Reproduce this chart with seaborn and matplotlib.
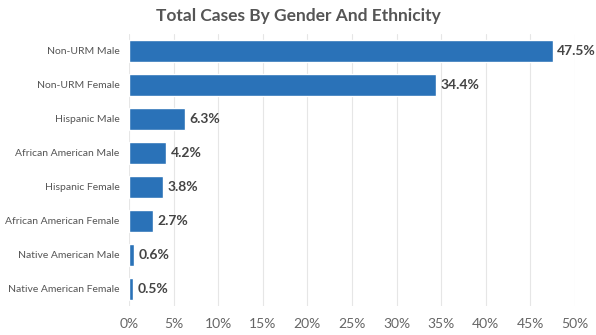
import matplotlib
matplotlib.use("Agg")
import matplotlib.pyplot as plt
import seaborn as sns
import pandas as pd
from matplotlib.ticker import FuncFormatter

categories = [
    "Non-URM Male",
    "Non-URM Female",
    "Hispanic Male",
    "African American Male",
    "Hispanic Female",
    "African American Female",
    "Native American Male",
    "Native American Female",
]
shares = [47.5, 34.4, 6.3, 4.2, 3.8, 2.7, 0.6, 0.5]
x_ticks = [0, 5, 10, 15, 20, 25, 30, 35, 40, 45, 50]

df = pd.DataFrame({"group": categories, "share": shares})

sns.set_theme(style="white")
plt.rcParams["font.family"] = ["Lato", "DejaVu Sans"]

fig = plt.figure(figsize=(5.96, 3.35), dpi=100)
ax = fig.add_axes([0.2164, 0.0866, 0.7484, 0.812])

sns.barplot(data=df, x="share", y="group", color="#2a72b8", width=0.65,
            saturation=1, ax=ax, orient="h")

ax.set_xlim(0, 50)
ax.set_ylim(7.5, -0.5)
ax.set_xticks(x_ticks)
ax.xaxis.set_major_formatter(FuncFormatter(lambda v, _: f"{v:.0f}%"))
ax.grid(axis="x", color="#e6e6e6", linewidth=0.8)
ax.set_axisbelow(True)
for s in ax.spines.values():
    s.set_visible(False)
ax.tick_params(axis="both", length=0)
ax.tick_params(axis="x", labelsize=10, labelcolor="#666666", pad=9)
ax.tick_params(axis="y", labelsize=7.5, labelcolor="#555555", pad=7)
ax.set_xlabel("")
ax.set_ylabel("")

for i, v in enumerate(shares):
    ax.text(v + 0.5, i, f"{v}%", va="center", ha="left", fontsize=10,
            fontweight="bold", color="#444444")

fig.suptitle("Total Cases By Gender And Ethnicity", x=0.5, y=0.975,
             fontsize=12.5, fontweight="bold", color="#555555")

fig.savefig("out.png", dpi=100)
